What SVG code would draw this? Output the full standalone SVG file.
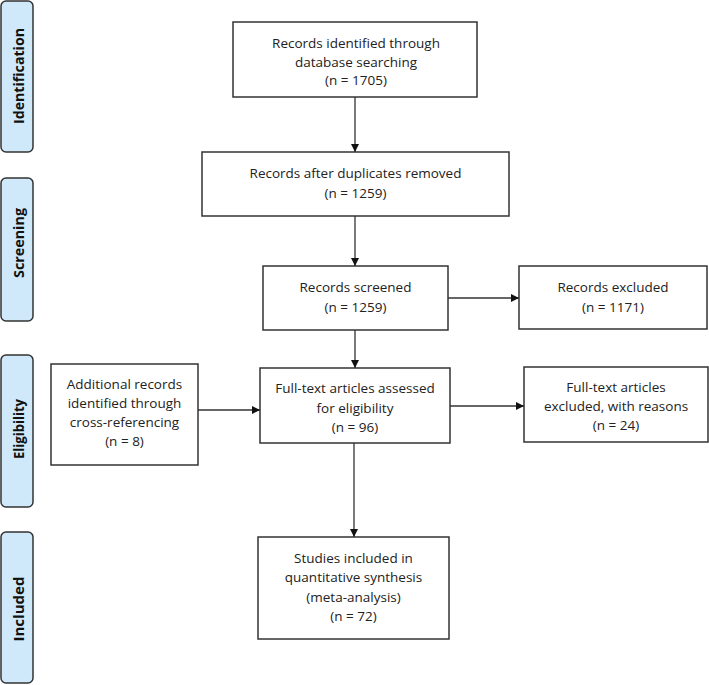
<svg xmlns="http://www.w3.org/2000/svg" width="709" height="685" viewBox="0 0 709 685">
<style>
.side rect{fill:#cfe9fb;stroke:#333;stroke-width:1.5}
.side text{font-family:"Open Sans","Liberation Sans",sans-serif;font-weight:bold;font-size:15px;fill:#111;text-anchor:middle}
.node rect{fill:#fff;stroke:#333;stroke-width:1.5}
.node text{font-family:"Open Sans","Liberation Sans",sans-serif;font-size:13.5px;fill:#222;text-anchor:middle}
.conn line{stroke:#333;stroke-width:1.3}
</style>
<defs>
<marker id="ah" viewBox="0 0 10 10" refX="10" refY="5" markerWidth="8" markerHeight="8" markerUnits="userSpaceOnUse" orient="auto">
<path d="M0,0 L10,5 L0,10 z" fill="#111"/>
</marker>
</defs>
<rect width="709" height="685" fill="#fff"/>
<g id="side-identification" class="side"><rect x="1" y="1" width="32" height="151" rx="5"/><text transform="translate(23.5,76) rotate(-90)" textLength="96" lengthAdjust="spacingAndGlyphs">Identification</text></g>
<g id="side-screening" class="side"><rect x="1" y="178" width="32" height="143" rx="5"/><text transform="translate(23.5,243) rotate(-90)" textLength="70" lengthAdjust="spacingAndGlyphs">Screening</text></g>
<g id="side-eligibility" class="side"><rect x="1" y="355" width="32" height="152" rx="5"/><text transform="translate(23.5,429) rotate(-90)" textLength="60" lengthAdjust="spacingAndGlyphs">Eligibility</text></g>
<g id="side-included" class="side"><rect x="1" y="532" width="32" height="151" rx="5"/><text transform="translate(23.5,609) rotate(-90)" textLength="65" lengthAdjust="spacingAndGlyphs">Included</text></g>

<g id="n1" class="node"><rect x="233" y="22" width="244" height="75"/><text x="356" y="48">Records identified through</text><text x="356" y="67">database searching</text><text x="356" y="85">(n = 1705)</text></g>
<g id="n2" class="node"><rect x="202" y="152" width="307" height="64"/><text x="355.5" y="178">Records after duplicates removed</text><text x="355.5" y="198">(n = 1259)</text></g>
<g id="n3" class="node"><rect x="263" y="266" width="185" height="64"/><text x="355.5" y="292">Records screened</text><text x="355.5" y="312">(n = 1259)</text></g>
<g id="n4" class="node"><rect x="519" y="266" width="188" height="63"/><text x="613" y="292">Records excluded</text><text x="613" y="312">(n = 1171)</text></g>
<g id="n5" class="node"><rect x="51" y="364" width="147" height="101"/><text x="124.5" y="389">Additional records</text><text x="124.5" y="408">identified through</text><text x="124.5" y="427">cross-referencing</text><text x="124.5" y="446">(n = 8)</text></g>
<g id="n6" class="node"><rect x="260" y="368" width="190" height="75"/><text x="355" y="393">Full-text articles assessed</text><text x="355" y="413">for eligibility</text><text x="355" y="432">(n = 96)</text></g>
<g id="n7" class="node"><rect x="524" y="367" width="184" height="75"/><text x="616" y="392">Full-text articles</text><text x="616" y="411">excluded, with reasons</text><text x="616" y="430">(n = 24)</text></g>
<g id="n8" class="node"><rect x="258" y="537" width="191" height="102"/><text x="353.5" y="563">Studies included in</text><text x="353.5" y="582">quantitative synthesis</text><text x="353.5" y="602">(meta-analysis)</text><text x="353.5" y="621">(n = 72)</text></g>

<g id="connectors" class="conn">
<line x1="355" y1="97" x2="355" y2="152" marker-end="url(#ah)"/>
<line x1="355" y1="216" x2="355" y2="266" marker-end="url(#ah)"/>
<line x1="448" y1="298" x2="519" y2="298" marker-end="url(#ah)"/>
<line x1="355" y1="330" x2="355" y2="368" marker-end="url(#ah)"/>
<line x1="198" y1="410" x2="260" y2="410" marker-end="url(#ah)"/>
<line x1="450" y1="406" x2="524" y2="406" marker-end="url(#ah)"/>
<line x1="354" y1="443" x2="354" y2="537" marker-end="url(#ah)"/>
</g>
</svg>
